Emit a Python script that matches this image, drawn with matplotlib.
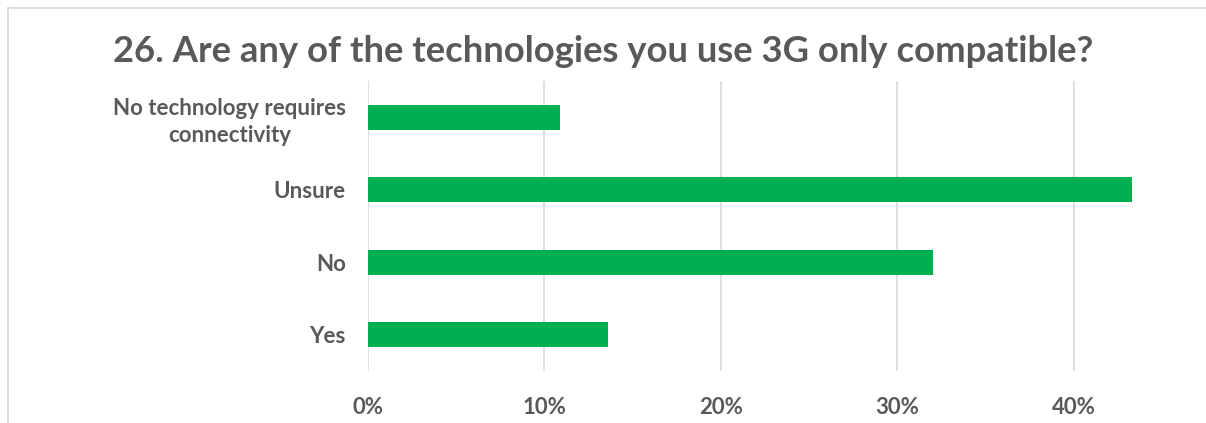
import matplotlib
matplotlib.use("Agg")
import matplotlib.pyplot as plt
from matplotlib.lines import Line2D
from matplotlib.ticker import PercentFormatter

# Survey responses, bottom to top as drawn
categories = ["Yes", "No", "Unsure", "No technology requires\nconnectivity"]
shares = [0.136, 0.320, 0.433, 0.109]
x_ticks = [0.0, 0.1, 0.2, 0.3, 0.4]

TITLE = "26. Are any of the technologies you use 3G only compatible?"
GREEN = "#00B050"
TEXT = "#595959"
GRID = "#D9D9D9"

plt.rcParams["font.family"] = ["Lato", "DejaVu Sans"]

W, H = 1206, 423
fig = plt.figure(figsize=(W / 100, H / 100), dpi=100)

# chart frame: only the top and left edges fall inside the canvas
fx, fy = 7.5 / W, 1 - 8.5 / H
fig.add_artist(Line2D([fx, 1.0], [fy, fy], transform=fig.transFigure,
                      color=GRID, linewidth=1.3))
fig.add_artist(Line2D([fx, fx], [0.0, fy], transform=fig.transFigure,
                      color=GRID, linewidth=1.3))

left, right = 368 / W, 1162 / W
top, bottom = 1 - 81 / H, 1 - 371 / H
ax = fig.add_axes([left, bottom, right - left, top - bottom])

y = range(len(categories))
ax.barh(y, shares, height=0.35, color=GREEN, zorder=2)

ax.set_xlim(0, 0.45)
ax.set_ylim(-0.5, len(categories) - 0.5)
ax.set_xticks(x_ticks)
ax.xaxis.set_major_formatter(PercentFormatter(1.0, decimals=0))
ax.set_yticks(list(y))
ax.set_yticklabels(categories, multialignment="center", linespacing=1.35)

ax.grid(True, axis="x", color=GRID, linewidth=1.2, zorder=0)
for s in ax.spines.values():
    s.set_visible(False)
ax.tick_params(axis="both", length=0, colors=TEXT, labelsize=16)
ax.tick_params(axis="y", pad=16)
ax.tick_params(axis="x", pad=19)
for lbl in ax.get_xticklabels() + ax.get_yticklabels():
    lbl.set_fontweight("bold")

fig.text(603 / W, 1 - 51 / H, TITLE, ha="center", va="center",
         fontsize=26.2, fontweight="bold", color=TEXT)

fig.savefig("out.png", dpi=100)
